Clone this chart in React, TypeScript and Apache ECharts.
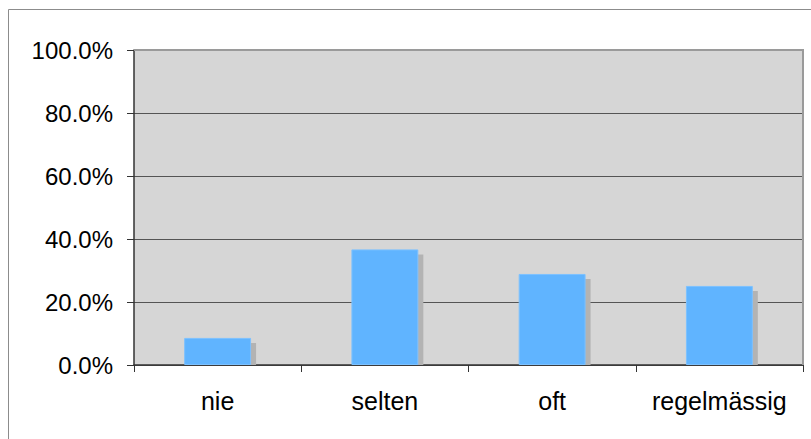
import React, { useEffect, useRef } from "react";
import * as echarts from "echarts";

// Response categories and their shares (percent)
const categories = ["nie", "selten", "oft", "regelmässig"];
const shares = [8.6, 36.7, 28.9, 25.1];

const FONT = "'Liberation Sans', Arial, sans-serif";

export default function App() {
  const ref = useRef<HTMLDivElement>(null);

  useEffect(() => {
    document.body.style.margin = "0";
    if (!ref.current) return;
    const chart = echarts.init(ref.current, undefined, { renderer: "svg" });

    const option: echarts.EChartsOption = {
      animation: false,
      backgroundColor: "#ffffff",
      textStyle: { fontFamily: FONT },
      graphic: [
        {
          type: "rect",
          shape: { x: 8.5, y: 9.5, width: 830, height: 460 },
          style: { fill: "none", stroke: "#8c8c8c", lineWidth: 1 },
          z: -10,
          silent: true,
        },
        // top and right frame of the plot area
        {
          type: "polyline",
          shape: { points: [[134, 50], [803, 50], [803, 365]] },
          style: { fill: "none", stroke: "#9a9a9a", lineWidth: 2 },
          z: 1,
          silent: true,
        },
      ],
      grid: {
        left: 134,
        top: 50,
        right: 8,
        bottom: 74,
        show: true,
        backgroundColor: "#d6d6d6",
        borderWidth: 0,
      },
      xAxis: {
        type: "category",
        data: categories,
        axisLine: { lineStyle: { color: "#333333", width: 1.5 } },
        axisTick: { show: true, interval: 0, length: 7, lineStyle: { color: "#333333" } },
        axisLabel: {
          interval: 0,
          color: "#000000",
          fontSize: 25,
          fontFamily: FONT,
          margin: 23,
        },
      },
      yAxis: {
        type: "value",
        min: 0,
        max: 100,
        interval: 20,
        axisLine: { show: true, lineStyle: { color: "#333333", width: 1.5 } },
        axisTick: { show: true, length: 7, lineStyle: { color: "#333333" } },
        splitLine: { show: true, lineStyle: { color: "#555555", width: 1 } },
        axisLabel: {
          color: "#000000",
          fontSize: 24,
          fontFamily: FONT,
          margin: 21,
          formatter: (v: number) => v.toFixed(1) + "%",
        },
      },
      series: [
        {
          // drop shadow behind each bar
          type: "custom",
          z: 2,
          silent: true,
          data: shares.map((v, i) => [i, v]),
          renderItem: (params: any, api: any) => {
            const idx = api.value(0);
            const val = api.value(1);
            const top = api.coord([idx, val]);
            const base = api.coord([idx, 0]);
            const band = api.size([1, 0])[0];
            const w = band * 0.4;
            const off = 5;
            return {
              type: "rect",
              shape: {
                x: top[0] - w / 2 + off,
                y: top[1] + off,
                width: w,
                height: base[1] - top[1] - off,
              },
              style: { fill: "#b3b3b3" },
            };
          },
        },
        {
          type: "bar",
          z: 3,
          data: shares,
          barWidth: "40%",
          itemStyle: {
            color: "#60b4ff",
            borderColor: "#7cc1ff",
            borderWidth: 1,
          },
        },
      ],
    };

    chart.setOption(option);
    return () => chart.dispose();
  }, []);

  return <div ref={ref} style={{ width: 811, height: 439 }} />;
}
